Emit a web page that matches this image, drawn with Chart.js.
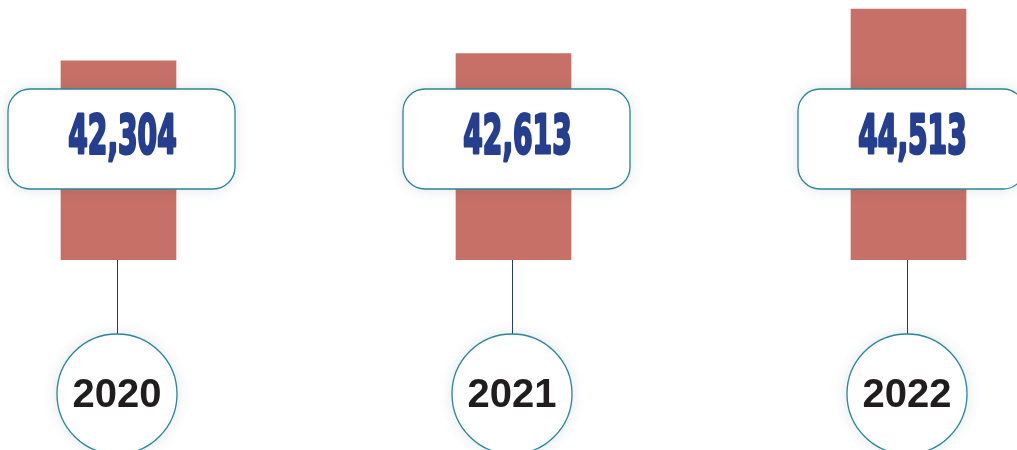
<!DOCTYPE html>
<html lang="en">

<head>
    <meta charset="utf-8">
    <title>Yearly totals</title>
    <script src="https://cdn.jsdelivr.net/npm/chart.js"></script>
    <style>
        html, body {
            margin: 0;
            padding: 0;
            background: #ffffff;
        }

        .chart-box {
            width: 1017px;
            height: 450px;
            position: relative;
        }
    </style>
</head>

<body>
    <div class="chart-box">
        <canvas id="yearChart"></canvas>
    </div>

    <script>
        // data
        const years = ['2020', '2021', '2022'];
        const totals = [42304, 42613, 44513];

        // labels: rounded box with value, line down to a circle with the year
        const badgePlugin = {
            id: 'badges',
            afterDatasetsDraw(chart) {
                const ctx = chart.ctx;
                const meta = chart.getDatasetMeta(0);
                const baseY = chart.chartArea.bottom;
                meta.data.forEach(function (bar, i) {
                    const cx = bar.x - 1.5;
                    const circleY = 394;
                    const r = 60;

                    // connector line
                    const lx = Math.round(cx) + 0.5;
                    ctx.save();
                    ctx.strokeStyle = '#1f3c78';
                    ctx.lineWidth = 1;
                    ctx.beginPath();
                    ctx.moveTo(lx, baseY);
                    ctx.lineTo(lx, circleY - r);
                    ctx.stroke();
                    ctx.restore();

                    // year circle
                    ctx.save();
                    ctx.shadowColor = 'rgba(40, 70, 100, 0.16)';
                    ctx.shadowBlur = 14;
                    ctx.fillStyle = '#ffffff';
                    ctx.beginPath();
                    ctx.arc(cx, circleY, r, 0, Math.PI * 2);
                    ctx.fill();
                    ctx.restore();
                    ctx.save();
                    ctx.strokeStyle = '#2a8799';
                    ctx.lineWidth = 1.3;
                    ctx.beginPath();
                    ctx.arc(cx, circleY, r, 0, Math.PI * 2);
                    ctx.stroke();
                    ctx.fillStyle = '#1f1d1e';
                    ctx.font = 'bold 40px "Liberation Sans", Arial, sans-serif';
                    ctx.textAlign = 'center';
                    ctx.textBaseline = 'middle';
                    ctx.fillText(years[i], cx, circleY + 2);
                    ctx.restore();

                    // value box
                    const bx = bar.x + 3;
                    const by = 139;
                    const w = 227, h = 100, rad = 22;
                    ctx.save();
                    ctx.shadowColor = 'rgba(40, 70, 100, 0.16)';
                    ctx.shadowBlur = 14;
                    ctx.fillStyle = '#ffffff';
                    ctx.beginPath();
                    ctx.roundRect(bx - w / 2, by - h / 2, w, h, rad);
                    ctx.fill();
                    ctx.restore();
                    ctx.save();
                    ctx.strokeStyle = '#2a8799';
                    ctx.lineWidth = 1.3;
                    ctx.beginPath();
                    ctx.roundRect(bx - w / 2, by - h / 2, w, h, rad);
                    ctx.stroke();

                    // condensed heavy number
                    ctx.translate(bx + 1, by);
                    ctx.scale(0.53, 1);
                    ctx.fillStyle = '#253f8e';
                    ctx.strokeStyle = '#253f8e';
                    ctx.lineWidth = 3;
                    ctx.lineJoin = 'round';
                    ctx.font = 'bold 53px "DejaVu Sans", sans-serif';
                    ctx.textAlign = 'center';
                    ctx.textBaseline = 'middle';
                    const txt = totals[i].toLocaleString('en-US');
                    ctx.strokeText(txt, 0, 0);
                    ctx.fillText(txt, 0, 0);
                    ctx.restore();
                });
            }
        };

        const ctxYear = document.getElementById('yearChart').getContext('2d');
        new Chart(ctxYear, {
            type: 'bar',
            data: {
                labels: years,
                datasets: [{
                    data: totals,
                    backgroundColor: '#c77067',
                    barThickness: 115,
                    clip: { left: false, right: false, top: false, bottom: 0 }
                }]
            },
            options: {
                responsive: true,
                maintainAspectRatio: false,
                animation: false,
                layout: {
                    padding: { left: 118.5, right: 108.5, top: 0, bottom: 190 }
                },
                scales: {
                    x: { display: false, offset: false },
                    y: { display: false, min: 33800, max: 44900 }
                },
                plugins: {
                    legend: { display: false },
                    tooltip: { enabled: false }
                }
            },
            plugins: [badgePlugin]
        });
    </script>
</body>

</html>
